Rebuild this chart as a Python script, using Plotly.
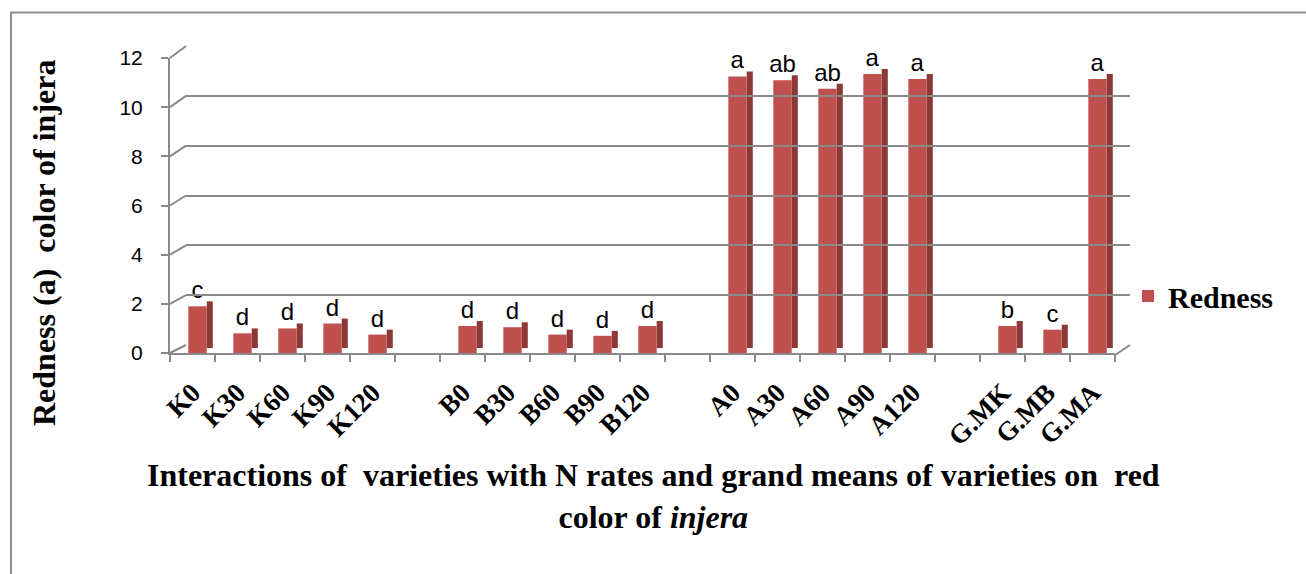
import plotly.graph_objects as go

categories = ["K0", "K30", "K60", "K90", "K120", " ",
              "B0", "B30", "B60", "B90", "B120", "  ",
              "A0", "A30", "A60", "A90", "A120", "   ",
              "G.MK", "G.MB", "G.MA"]
redness = [1.9, 0.8, 1.0, 1.2, 0.75, None,
           1.1, 1.05, 0.75, 0.7, 1.1, None,
           11.25, 11.1, 10.75, 11.35, 11.15, None,
           1.1, 0.95, 11.15]
letters = ["c", "d", "d", "d", "d", "",
           "d", "d", "d", "d", "d", "",
           "a", "ab", "ab", "a", "a", "",
           "b", "c", "a"]
y_ticks = [0, 2, 4, 6, 8, 10, 12]

W, H = 1306, 574
FRONT_COLOR = "#C0504D"
SIDE_COLOR = "#8C3836"
GRID = "#8A8A8A"


def px_x(p):
    return p / W


def px_y(p):
    return 1 - p / H


# front (bars) axes geometry
fx0, fx1 = 170, 1115
fy0, fy12 = 353, 58
# back wall geometry
bx0, bx1 = 186, 1130
by0, by12 = 345, 46
depth = 0.2

fig = go.Figure()

# side face of the 3-D bars
fig.add_trace(go.Bar(
    x=categories, y=redness, base=depth, width=0.135, offset=0.316,
    marker=dict(color=SIDE_COLOR, line=dict(width=0)),
    showlegend=False, hoverinfo="skip", xaxis="x", yaxis="y",
))
# front face
fig.add_trace(go.Bar(
    x=categories, y=redness, width=0.409, offset=-0.093,
    marker=dict(color=FRONT_COLOR, line=dict(width=0)),
    name="Redness", text=letters, textposition="outside",
    constraintext="none", cliponaxis=False,
    textfont=dict(family="Liberation Sans", size=24, color="black"),
    xaxis="x", yaxis="y",
))
# invisible trace for the back wall grid
fig.add_trace(go.Scatter(x=[0, 1], y=[0, 0], mode="lines",
                         line=dict(width=0), showlegend=False,
                         hoverinfo="skip", xaxis="x2", yaxis="y2"))

shapes = []
# diagonal connectors from front y-axis ticks to the back wall
for v in y_ticks:
    yf = fy0 + (fy12 - fy0) * v / 12
    yb = by0 + (by12 - by0) * v / 12
    shapes.append(dict(type="line", xref="paper", yref="paper",
                       x0=px_x(fx0), y0=px_y(yf), x1=px_x(bx0), y1=px_y(yb),
                       line=dict(color=GRID, width=2), layer="below"))
# floor diagonal at right end
shapes.append(dict(type="line", xref="paper", yref="paper",
                   x0=px_x(fx1), y0=px_y(fy0 + 2), x1=px_x(bx1), y1=px_y(by0),
                   line=dict(color=GRID, width=2), layer="below"))
# chart border
shapes.append(dict(type="rect", xref="paper", yref="paper",
                   x0=px_x(11), y0=-0.05, x1=1.05, y1=px_y(12.5),
                   line=dict(color="#8E8E8E", width=2)))

fig.update_layout(
    template="none",
    width=W, height=H,
    margin=dict(l=0, r=0, t=0, b=0, pad=0, autoexpand=False),
    paper_bgcolor="white", plot_bgcolor="rgba(0,0,0,0)",
    barmode="overlay",
    showlegend=True,
    legend=dict(x=px_x(1128), y=px_y(296), xanchor="left", yanchor="middle",
                font=dict(family="Liberation Serif", size=30, color="black",
                          weight="bold"),
                bgcolor="rgba(0,0,0,0)", itemwidth=30),
    xaxis=dict(domain=[px_x(fx0), px_x(fx1)], type="category",
               categoryorder="array", categoryarray=categories,
               range=[-0.5, len(categories) - 0.5], automargin=False,
               showline=True, linecolor=GRID, linewidth=2,
               ticks="outside", ticklen=7, tickcolor=GRID, tickwidth=2,
               tickson="boundaries", tickangle=-45, ticklabelstandoff=11,
               tickfont=dict(family="Liberation Serif", size=27, color="black",
                             weight="bold"),
               showgrid=False, zeroline=False),
    yaxis=dict(domain=[px_y(fy0), px_y(fy12)], range=[0, 12], automargin=False,
               tickvals=y_ticks, showline=True, linecolor=GRID, linewidth=2,
               ticks="outside", ticklen=7, tickcolor=GRID, tickwidth=2,
               ticklabelstandoff=14,
               tickfont=dict(family="Liberation Sans", size=21, color="black"),
               showgrid=False, zeroline=False),
    xaxis2=dict(domain=[px_x(bx0), px_x(bx1)], range=[0, 1], visible=False,
                anchor="y2", automargin=False),
    yaxis2=dict(domain=[px_y(by0), px_y(by12)], range=[0, 12],
                tickvals=y_ticks, showticklabels=False, showline=False,
                ticks="", automargin=False,
                showgrid=True, gridcolor=GRID, gridwidth=2, zeroline=False,
                anchor="x2"),
    shapes=shapes,
    annotations=[
        dict(text="Redness (a)  color of injera", textangle=-90,
             xref="paper", yref="paper", x=px_x(44), y=px_y(243),
             xanchor="center", yanchor="middle", showarrow=False,
             font=dict(family="Liberation Serif", size=32, color="black",
                       weight="bold")),
        dict(text="Interactions of  varieties with N rates and grand means of varieties on  red"
                  "<br>color of <i>injera</i>",
             xref="paper", yref="paper", x=px_x(654), y=px_y(496),
             xanchor="center", yanchor="middle", showarrow=False,
             font=dict(family="Liberation Serif", size=32, color="black",
                       weight="bold")),
    ],
)

fig.write_html("out.html")
